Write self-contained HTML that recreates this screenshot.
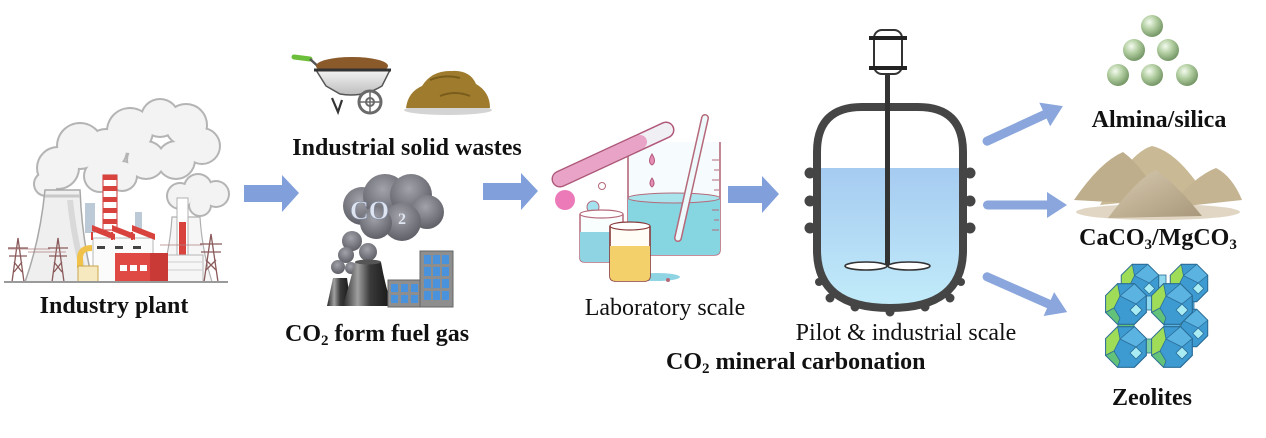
<!DOCTYPE html>
<html><head><meta charset="utf-8">
<style>
html,body{margin:0;padding:0;background:#fff;}
svg{display:block;}
text{font-family:"Liberation Serif","Times New Roman",serif;fill:#111;}
.b{font-weight:bold;}
</style></head><body>
<svg width="1266" height="438" viewBox="0 0 1266 438" xmlns="http://www.w3.org/2000/svg">
<defs>
 <radialGradient id="ball" cx="0.38" cy="0.33" r="0.72">
  <stop offset="0" stop-color="#f4faef"/>
  <stop offset="0.45" stop-color="#b3cfa2"/>
  <stop offset="1" stop-color="#6d8f5e"/>
 </radialGradient>
 <linearGradient id="liq" x1="0" y1="0" x2="0" y2="1">
  <stop offset="0" stop-color="#a6cbf1"/>
  <stop offset="1" stop-color="#c4eefa"/>
 </linearGradient>
 <linearGradient id="tower" x1="0" y1="0" x2="1" y2="0">
  <stop offset="0" stop-color="#2a2a2a"/>
  <stop offset="0.3" stop-color="#a0a0a0"/>
  <stop offset="0.55" stop-color="#3a3a3a"/>
  <stop offset="1" stop-color="#151515"/>
 </linearGradient>
 <radialGradient id="co2c" cx="0.45" cy="0.35" r="0.7">
  <stop offset="0" stop-color="#a2a2aa"/>
  <stop offset="1" stop-color="#5a5a62"/>
 </radialGradient>
 <linearGradient id="tray" x1="0" y1="0" x2="0" y2="1">
  <stop offset="0" stop-color="#f4f4f4"/>
  <stop offset="1" stop-color="#bdbdbd"/>
 </linearGradient>
 <linearGradient id="sand" x1="0" y1="0" x2="1" y2="1">
  <stop offset="0" stop-color="#d8cbb0"/>
  <stop offset="1" stop-color="#a8977a"/>
 </linearGradient>
 <clipPath id="vclip"><path d="M817,152 Q817,107 862,107 L918,107 Q963,107 963,152 L963,250 Q963,308 890,308 Q817,308 817,250 Z"/></clipPath>
 <g id="oct">
  <polygon points="20.3,-8.4 8.4,-20.3 -8.4,-20.3 -20.3,-8.4 -20.3,8.4 -8.4,20.3 8.4,20.3 20.3,8.4" fill="#3d9bd2" stroke="#2a6c95" stroke-width="1.2"/>
  <polygon points="-20.3,-8.4 -8.4,-20.3 -6,-8 -12,4 -20.3,8.4" fill="#9fdc58" stroke="#2a6c95" stroke-width="0.8"/>
  <polygon points="-20.3,8.4 -12,4 -6,14 -8.4,20.3" fill="#63c27a" stroke="#2a6c95" stroke-width="0.8"/>
  <polygon points="-6,-8 8.4,-20.3 20.3,-8.4 10,0" fill="#5bb3e2" stroke="#2a6c95" stroke-width="0.8"/>
  <polygon points="4,6 10,0 16,6 10,12" fill="#a9ecf3" stroke="#2a6c95" stroke-width="0.8"/>
 </g>
</defs>

<!-- ============ INDUSTRY PLANT ============ -->
<g fill="#b4b4b4">
 <circle cx="58" cy="168" r="22"/><circle cx="80" cy="146" r="24"/><circle cx="106" cy="150" r="22"/>
 <circle cx="100" cy="176" r="17"/><circle cx="130" cy="131" r="24"/><circle cx="160" cy="118" r="20"/>
 <circle cx="186" cy="125" r="22"/><circle cx="202" cy="146" r="19"/><circle cx="176" cy="160" r="20"/>
 <circle cx="146" cy="160" r="20"/><circle cx="122" cy="176" r="16"/><circle cx="46" cy="184" r="13"/>
 <circle cx="180" cy="196" r="14"/><circle cx="198" cy="188" r="15"/><circle cx="216" cy="194" r="14"/><circle cx="200" cy="205" r="12"/>
</g>
<g fill="#f3f3f3">
 <circle cx="58" cy="168" r="20"/><circle cx="80" cy="146" r="22"/><circle cx="106" cy="150" r="20"/>
 <circle cx="100" cy="176" r="15"/><circle cx="130" cy="131" r="22"/><circle cx="160" cy="118" r="18"/>
 <circle cx="186" cy="125" r="20"/><circle cx="202" cy="146" r="17"/><circle cx="176" cy="160" r="18"/>
 <circle cx="146" cy="160" r="18"/><circle cx="122" cy="176" r="14"/><circle cx="46" cy="184" r="11"/>
 <circle cx="180" cy="196" r="12"/><circle cx="198" cy="188" r="13"/><circle cx="216" cy="194" r="12"/><circle cx="200" cy="205" r="10"/>
</g>
<path d="M25,282 Q40,240 45,190 L80,190 Q82,240 93,282 Z" fill="#efefef" stroke="#a8a8a8" stroke-width="1.5"/>
<path d="M45,196 L80,196" stroke="#c8c8c8" stroke-width="3"/>
<path d="M70,200 Q74,240 86,282" stroke="#d9d9d9" stroke-width="6" fill="none"/>
<rect x="85" y="203" width="10" height="30" fill="#bcc9d6"/>
<rect x="135" y="212" width="7" height="20" fill="#bcc9d6"/>
<path d="M160,282 Q170,250 172,217 L200,217 Q202,250 212,282" fill="#f6f6f6" stroke="#b0b0b0" stroke-width="1.2"/>
<rect x="103" y="175" width="14" height="55" fill="#fff" stroke="#c33" stroke-width="1"/>
<g fill="#d9433e">
 <rect x="103" y="175" width="14" height="5"/><rect x="103" y="186" width="14" height="5"/>
 <rect x="103" y="197" width="14" height="5"/><rect x="103" y="208" width="14" height="5"/><rect x="103" y="219" width="14" height="5"/>
</g>
<rect x="93" y="238" width="60" height="44" fill="#fbfbfb" stroke="#b7b7b7" stroke-width="1"/>
<path d="M92,225 L115,234 L115,240 L92,231 Z M112,225 L135,234 L135,240 L112,231 Z M132,225 L155,234 L155,240 L132,231 Z" fill="#d9433e"/>
<path d="M92,232 L92,240 M112,232 L112,240 M132,232 L132,240" stroke="#d9433e" stroke-width="2"/>
<g fill="#444"><rect x="97" y="246" width="8" height="3"/><rect x="115" y="246" width="8" height="3"/><rect x="133" y="246" width="8" height="3"/></g>
<path d="M80,268 L80,258 Q80,248 92,248" stroke="#f0c24a" stroke-width="6" fill="none"/>
<rect x="78" y="266" width="20" height="16" fill="#f7e9bf" stroke="#c9a84a" stroke-width="1"/>
<rect x="177" y="198" width="11" height="58" fill="#fff" stroke="#b0b0b0" stroke-width="1"/>
<rect x="179" y="222" width="7" height="34" fill="#d9433e"/>
<rect x="165" y="255" width="38" height="27" fill="#f6f6f6" stroke="#b7b7b7" stroke-width="1"/>
<path d="M165,262 L203,262 M165,270 L203,270" stroke="#d0d0d0" stroke-width="1"/>
<rect x="115" y="253" width="53" height="29" fill="#e04a45"/>
<rect x="150" y="253" width="18" height="29" fill="#c93a36"/>
<g fill="#fff"><rect x="120" y="265" width="7" height="6"/><rect x="130" y="265" width="7" height="6"/><rect x="140" y="265" width="7" height="6"/></g>
<g stroke="#8a5a5a" stroke-width="1.3" fill="none">
 <path d="M12,282 L18,238 L24,282 M8,248 L28,248 M9,256 L27,256 M14,262 L22,272 M22,262 L14,272"/>
 <path d="M52,282 L58,238 L64,282 M48,248 L68,248 M49,256 L67,256 M54,262 L62,272 M62,262 L54,272"/>
 <path d="M204,282 L211,234 L218,282 M200,244 L222,244 M201,252 L221,252 M206,260 L216,270 M216,260 L206,270"/>
 <path d="M8,249 L50,249 M28,252 L66,252 M160,245 L202,245" stroke="#b08080" stroke-width="0.8"/>
</g>
<line x1="4" y1="282" x2="228" y2="282" stroke="#9a9a9a" stroke-width="2"/>

<!-- ============ SOLID WASTES ============ -->
<line x1="294" y1="57" x2="310" y2="59" stroke="#6cbf3a" stroke-width="5" stroke-linecap="round"/>
<line x1="310" y1="59" x2="322" y2="70" stroke="#555" stroke-width="2.5"/>
<ellipse cx="352" cy="66" rx="36" ry="9" fill="#8a5a2b"/>
<path d="M316,70 L390,70 L382,86 Q362,98 340,94 L326,86 Z" fill="url(#tray)" stroke="#555" stroke-width="1.5"/>
<line x1="314" y1="70" x2="391" y2="70" stroke="#333" stroke-width="3"/>
<path d="M332,98 L338,112 L342,100" stroke="#333" stroke-width="2.2" fill="none"/>
<circle cx="370" cy="102" r="11" fill="#fff" stroke="#6a6a6a" stroke-width="3"/>
<circle cx="370" cy="102" r="4" fill="none" stroke="#6a6a6a" stroke-width="2"/>
<path d="M370,92 L370,112 M360,102 L380,102" stroke="#6a6a6a" stroke-width="1.5"/>
<ellipse cx="448" cy="110" rx="44" ry="5" fill="#d4d4d4"/>
<path d="M406,108 Q408,92 422,86 Q432,70 452,71 Q470,70 476,84 Q490,92 490,108 Z" fill="#9e7b2d"/>
<path d="M430,80 Q445,74 460,78 M440,96 Q455,90 470,96" stroke="#7a5c1c" stroke-width="2" fill="none"/>

<!-- ============ CO2 FUEL GAS ============ -->
<g fill="url(#co2c)">
 <circle cx="362" cy="206" r="19"/><circle cx="385" cy="196" r="22"/><circle cx="411" cy="195" r="21"/>
 <circle cx="427" cy="212" r="17"/><circle cx="402" cy="222" r="19"/><circle cx="376" cy="223" r="16"/>
 <circle cx="352" cy="241" r="10"/><circle cx="346" cy="255" r="8"/><circle cx="368" cy="252" r="9"/>
 <circle cx="338" cy="267" r="7"/><circle cx="351" cy="268" r="6"/>
</g>
<text x="350" y="219" class="b" font-size="26" style="fill:#dfe5f0;stroke:#7f8aa0;stroke-width:0.6">CO</text>
<text x="398" y="224" class="b" font-size="16" style="fill:#dfe5f0">2</text>
<path d="M327,306 L333,278 L347,278 L351,306 Z" fill="url(#tower)"/>
<path d="M343,306 Q350,282 355,262 L381,262 Q385,285 392,306 Z" fill="url(#tower)"/>
<ellipse cx="368" cy="262" rx="13" ry="2.5" fill="#555"/>
<rect x="388" y="280" width="35" height="27" fill="#8e8e8e" stroke="#666"/>
<g fill="#4a93dc">
 <rect x="391" y="284" width="7" height="8"/><rect x="401" y="284" width="7" height="8"/><rect x="411" y="284" width="7" height="8"/>
 <rect x="391" y="295" width="7" height="8"/><rect x="401" y="295" width="7" height="8"/><rect x="411" y="295" width="7" height="8"/>
</g>
<rect x="420" y="251" width="33" height="56" fill="#8e8e8e" stroke="#666"/>
<g fill="#4a93dc">
 <rect x="424" y="255" width="7" height="9"/><rect x="433" y="255" width="7" height="9"/><rect x="442" y="255" width="7" height="9"/>
 <rect x="424" y="267" width="7" height="9"/><rect x="433" y="267" width="7" height="9"/><rect x="442" y="267" width="7" height="9"/>
 <rect x="424" y="279" width="7" height="9"/><rect x="433" y="279" width="7" height="9"/><rect x="442" y="279" width="7" height="9"/>
 <rect x="424" y="291" width="7" height="9"/><rect x="433" y="291" width="7" height="9"/><rect x="442" y="291" width="7" height="9"/>
</g>

<!-- ============ LAB ============ -->
<path d="M628,142 L628,250 Q628,255 634,255 L714,255 Q720,255 720,250 L720,142" fill="#f6fcfd" stroke="#b5697a" stroke-width="1.6"/>
<path d="M628,198 Q674,192 720,198 L720,250 Q720,255 714,255 L634,255 Q628,255 628,250 Z" fill="#86d6e2"/>
<ellipse cx="674" cy="198" rx="46" ry="5" fill="#a9e3ec" stroke="#b5697a" stroke-width="1"/>
<g stroke="#b5697a" stroke-width="1"><path d="M712,160 L719,160 M714,170 L719,170 M712,180 L719,180 M714,190 L719,190 M712,210 L719,210 M714,220 L719,220 M712,230 L719,230"/></g>
<line x1="705" y1="118" x2="678" y2="238" stroke="#b5697a" stroke-width="8" stroke-linecap="round"/>
<line x1="705" y1="118" x2="678" y2="238" stroke="#eef9fb" stroke-width="5" stroke-linecap="round"/>
<line x1="560" y1="179" x2="666" y2="130" stroke="#b0587a" stroke-width="17" stroke-linecap="round"/>
<line x1="560" y1="179" x2="666" y2="130" stroke="#f0f0f4" stroke-width="14" stroke-linecap="round"/>
<line x1="560" y1="179" x2="640" y2="142" stroke="#e8a3c7" stroke-width="14" stroke-linecap="round"/>
<path d="M652,154 Q647,162 652,165 Q657,162 652,154 Z" fill="#e68db5" stroke="#b0587a"/>
<path d="M652,178 Q648,184 652,187 Q656,184 652,178 Z" fill="#e68db5" stroke="#b0587a"/>
<circle cx="565" cy="200" r="10" fill="#ec7ab8"/>
<circle cx="593" cy="207" r="6" fill="#a3e2ee" stroke="#b5697a"/>
<circle cx="602" cy="186" r="3.5" fill="#fff" stroke="#b5697a"/>
<path d="M580,214 L580,258 Q580,262 585,262 L618,262 Q623,262 623,258 L623,214" fill="#f8fdfe" stroke="#b5697a" stroke-width="1.5"/>
<path d="M580,232 L623,232 L623,258 Q623,262 618,262 L585,262 Q580,262 580,258 Z" fill="#8fd4e2"/>
<ellipse cx="601.5" cy="214" rx="21.5" ry="4" fill="#fff" stroke="#b5697a" stroke-width="1.2"/>
<ellipse cx="656" cy="277" rx="24" ry="4" fill="#8fd4e2"/>
<circle cx="668" cy="280" r="2" fill="#b5697a"/>
<path d="M610,226 L610,276 Q610,281 616,281 L644,281 Q650,281 650,276 L650,226" fill="#fffdf6" stroke="#8a3a3a" stroke-width="1.6"/>
<path d="M610,246 L650,246 L650,276 Q650,281 644,281 L616,281 Q610,281 610,276 Z" fill="#f3d06a"/>
<ellipse cx="630" cy="226" rx="20" ry="4" fill="#fff" stroke="#8a3a3a" stroke-width="1.2"/>

<!-- ============ REACTOR ============ -->
<rect x="874" y="30" width="28" height="44" rx="8" fill="#fff" stroke="#333" stroke-width="2"/>
<rect x="869" y="36" width="38" height="4" fill="#222"/>
<rect x="869" y="66" width="38" height="4" fill="#222"/>
<path d="M817,152 Q817,107 862,107 L918,107 Q963,107 963,152 L963,250 Q963,308 890,308 Q817,308 817,250 Z" fill="#fff"/>
<rect x="813" y="168" width="156" height="150" fill="url(#liq)" clip-path="url(#vclip)"/>
<g fill="#454545">
 <circle cx="810" cy="173" r="5.5"/><circle cx="810" cy="201" r="5.5"/><circle cx="810" cy="228" r="5.5"/>
 <circle cx="970" cy="173" r="5.5"/><circle cx="970" cy="201" r="5.5"/><circle cx="970" cy="228" r="5.5"/>
 <circle cx="830" cy="298" r="4.5"/><circle cx="855" cy="307" r="4.5"/><circle cx="890" cy="312" r="4.5"/>
 <circle cx="925" cy="307" r="4.5"/><circle cx="950" cy="298" r="4.5"/><circle cx="961" cy="282" r="4"/><circle cx="819" cy="282" r="4"/>
</g>
<path d="M817,152 Q817,107 862,107 L918,107 Q963,107 963,152 L963,250 Q963,308 890,308 Q817,308 817,250 Z" fill="none" stroke="#454545" stroke-width="8"/>
<rect x="885" y="74" width="5" height="192" fill="#333"/>
<ellipse cx="866" cy="266" rx="21" ry="4" fill="#fff" stroke="#333" stroke-width="1.6"/>
<ellipse cx="909" cy="266" rx="21" ry="4" fill="#fff" stroke="#333" stroke-width="1.6"/>

<!-- ============ ARROWS ============ -->
<g fill="#809fdb">
 <polygon points="244,185 282,185 282,175 299,193 282,212 282,202 244,202"/>
 <polygon points="483,183 521,183 521,173 538,191 521,210 521,200 483,200"/>
 <polygon points="728,186 762,186 762,176 779,194 762,213 762,203 728,203"/>
</g>
<g fill="#8aa6dc">
 <g transform="translate(983,143) rotate(-24.8)">
  <rect x="0" y="-4.5" width="72" height="9" rx="4.5"/><polygon points="68,-13 88,0 68,13"/>
 </g>
 <g transform="translate(983,205)">
  <rect x="0" y="-4.5" width="68" height="9" rx="4.5"/><polygon points="64,-13 84,0 64,13"/>
 </g>
 <g transform="translate(983,275) rotate(23.8)">
  <rect x="0" y="-4.5" width="76" height="9" rx="4.5"/><polygon points="72,-13 92,0 72,13"/>
 </g>
</g>

<!-- ============ PRODUCTS ============ -->
<g fill="url(#ball)">
 <circle cx="1152" cy="26" r="11"/>
 <circle cx="1134" cy="50" r="11"/><circle cx="1168" cy="50" r="11"/>
 <circle cx="1118" cy="75" r="11"/><circle cx="1152" cy="75" r="11"/><circle cx="1187" cy="75" r="11"/>
</g>
<ellipse cx="1158" cy="212" rx="82" ry="8" fill="#e0d6c3"/>
<path d="M1100,205 Q1130,152 1152,146 Q1178,152 1205,195 Z" fill="#c9b995"/>
<path d="M1074,200 Q1100,162 1123,152 Q1145,168 1162,205 Z" fill="#bfae8b"/>
<path d="M1168,208 Q1195,176 1216,168 Q1232,176 1242,200 Z" fill="#c4b492"/>
<path d="M1108,218 Q1138,178 1156,170 Q1178,186 1202,216 Z" fill="url(#sand)"/>
<rect x="1150" y="275" width="16" height="14" fill="#8fd8ee" stroke="#2a6c95" stroke-width="0.8"/>
<rect x="1180" y="300" width="14" height="16" fill="#5bb3e2" stroke="#2a6c95" stroke-width="0.8"/>
<use href="#oct" transform="translate(1140,283) scale(0.92)"/>
<use href="#oct" transform="translate(1189,283) scale(0.92)"/>
<use href="#oct" transform="translate(1189,328) scale(0.92)"/>
<rect x="1118" y="318" width="16" height="14" fill="#63c27a" stroke="#2a6c95" stroke-width="0.8"/>
<rect x="1164" y="318" width="16" height="14" fill="#5bb3e2" stroke="#2a6c95" stroke-width="0.8"/>
<rect x="1142" y="296" width="14" height="14" fill="#8fd8ee" stroke="#2a6c95" stroke-width="0.8"/>
<rect x="1142" y="339" width="14" height="14" fill="#7fd0a0" stroke="#2a6c95" stroke-width="0.8"/>
<use href="#oct" transform="translate(1126,304)"/>
<use href="#oct" transform="translate(1172,304)"/>
<use href="#oct" transform="translate(1126,347)"/>
<use href="#oct" transform="translate(1172,347)"/>

<!-- ============ LABELS ============ -->
<text x="114" y="313" class="b" font-size="24" text-anchor="middle">Industry plant</text>
<text x="407" y="155" class="b" font-size="24" text-anchor="middle">Industrial solid wastes</text>
<text x="285" y="341" class="b" font-size="24">CO<tspan font-size="15" dy="4">2</tspan><tspan dy="-4"> form fuel gas</tspan></text>
<text x="665" y="315" font-size="24" text-anchor="middle">Laboratory scale</text>
<text x="906" y="340" font-size="24" text-anchor="middle">Pilot &amp; industrial scale</text>
<text x="666" y="369" class="b" font-size="24">CO<tspan font-size="15" dy="4">2</tspan><tspan dy="-4"> mineral carbonation</tspan></text>
<text x="1159" y="127" class="b" font-size="24" text-anchor="middle">Almina/silica</text>
<text x="1158" y="245" class="b" font-size="24" text-anchor="middle">CaCO<tspan font-size="15" dy="4">3</tspan><tspan dy="-4">/MgCO</tspan><tspan font-size="15" dy="4">3</tspan></text>
<text x="1152" y="405" class="b" font-size="24" text-anchor="middle">Zeolites</text>
</svg>
</body></html>
